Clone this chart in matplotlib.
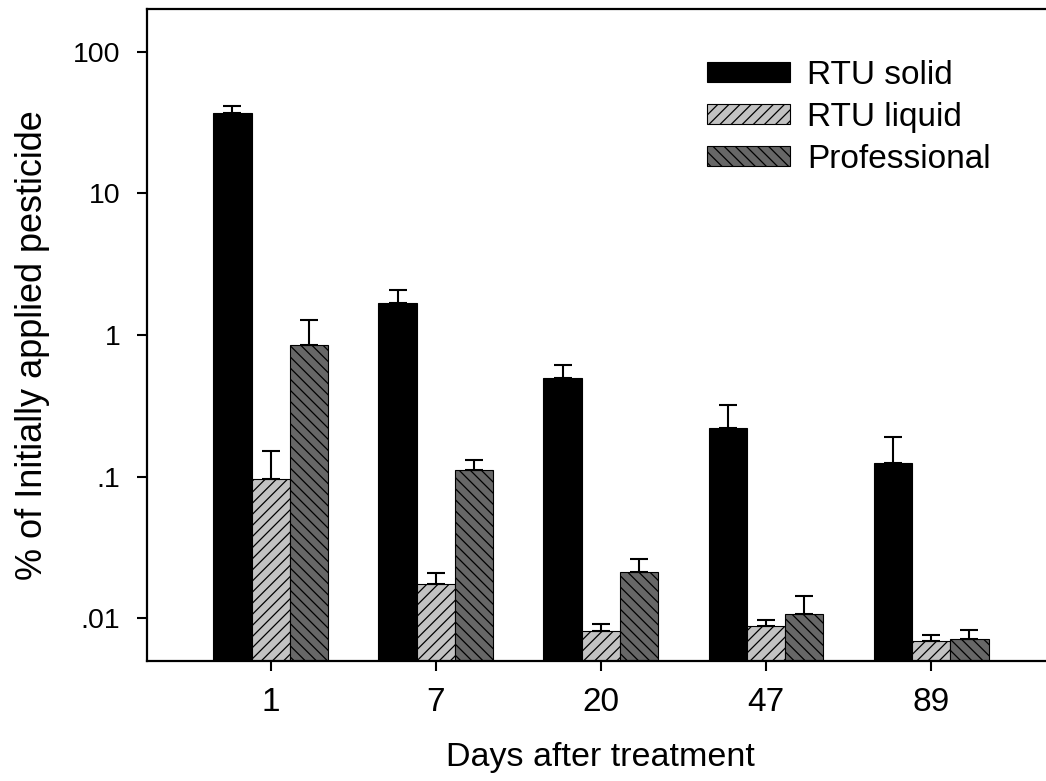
import numpy as np
import matplotlib
matplotlib.use("Agg")
import matplotlib.pyplot as plt

# ==== data ====
days = ["1", "7", "20", "47", "89"]
series = ["RTU solid", "RTU liquid", "Professional"]

rtu_solid = [36.7, 1.67, 0.50, 0.222, 0.124]
rtu_solid_err = [4.6, 0.40, 0.115, 0.096, 0.068]

rtu_liquid = [0.096, 0.0176, 0.0082, 0.0088, 0.0069]
rtu_liquid_err = [0.056, 0.0034, 0.0009, 0.0009, 0.0007]

professional = [0.85, 0.111, 0.0214, 0.0107, 0.0072]
professional_err = [0.42, 0.019, 0.005, 0.0036, 0.0011]

ytick_vals = [0.01, 0.1, 1, 10, 100]
ytick_labels = [".01", ".1", "1", "10", "100"]

# ==== style ====
plt.rcParams["font.family"] = ["Liberation Sans", "DejaVu Sans"]
plt.rcParams["hatch.linewidth"] = 0.9
plt.rcParams["hatch.color"] = "black"

fig = plt.figure(figsize=(10.46, 7.81), dpi=100)
ax = fig.add_axes([0.1405, 0.1537, 0.868, 0.8348])

x = np.arange(len(days))
w = 0.232

styles = [
    dict(color="black", hatch=None),
    dict(color="#c2c2c2", hatch="///"),
    dict(color="#676767", hatch="\\\\\\"),
]
vals = [rtu_solid, rtu_liquid, professional]
errs = [rtu_solid_err, rtu_liquid_err, professional_err]

for i, (name, v, e, st) in enumerate(zip(series, vals, errs, styles)):
    xpos = x + (i - 1) * w
    ax.bar(xpos, v, width=w, color=st["color"], hatch=st["hatch"],
           edgecolor="black", linewidth=0.8, label=name, zorder=2)
    # upper error bars only
    ax.errorbar(xpos, v, yerr=[np.zeros(len(v)), e], fmt="none",
                ecolor="black", elinewidth=1.5, capsize=6.5, capthick=1.5, zorder=3)

ax.set_yscale("log")
ax.set_ylim(0.005, 200)
ax.set_xlim(-0.75, 4.75)

ax.set_yticks(ytick_vals)
ax.set_yticklabels(ytick_labels)
ax.yaxis.set_minor_locator(matplotlib.ticker.NullLocator())
ax.set_xticks(x)
ax.set_xticklabels(days)

ax.tick_params(axis="both", direction="out", length=7.2, width=1.5)
ax.tick_params(axis="y", labelsize=20.5, pad=12)
ax.tick_params(axis="x", labelsize=24, pad=11.5)
for s in ax.spines.values():
    s.set_linewidth(1.6)

ax.set_xlabel("Days after treatment", fontsize=24.5, labelpad=17)
ax.set_ylabel("% of Initially applied pesticide", fontsize=26)
ax.yaxis.set_label_coords(-0.107, 0.485)

ax.legend(loc="upper left", bbox_to_anchor=(0.660, 0.945),
          bbox_transform=fig.transFigure, frameon=False, fontsize=24,
          handlelength=2.5, handleheight=0.54, labelspacing=0.33,
          handletextpad=0.5, borderpad=0)

fig.savefig("out.png", dpi=100)
